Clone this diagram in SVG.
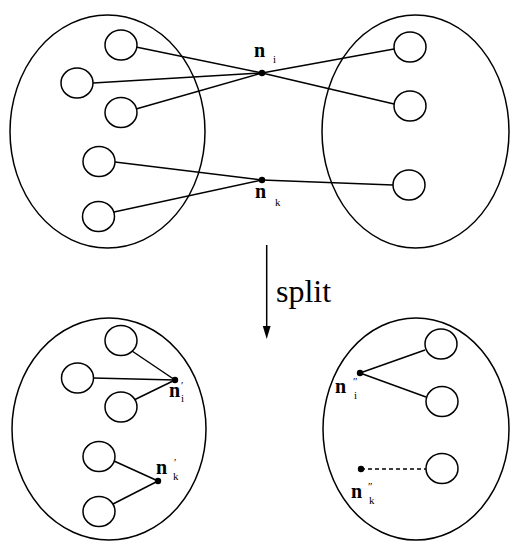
<svg xmlns="http://www.w3.org/2000/svg" width="510" height="541" viewBox="0 0 510 541">
<style>
.big{fill:none;stroke:#000;stroke-width:1.5}
.sm{fill:#fff;stroke:#000;stroke-width:1.5}
.ln{stroke:#000;stroke-width:1.5;fill:none}
.dash{stroke:#000;stroke-width:1.3;stroke-dasharray:4,3;fill:none}
.dot{fill:#000}
.n{font-family:"Liberation Serif",serif;font-size:20px;font-weight:bold;fill:#000}
.sub{font-family:"Liberation Serif",serif;font-size:11px;fill:#000}
.lbl{font-family:"Liberation Serif",serif;font-size:32px;fill:#000}
</style>
<rect width="510" height="541" fill="#fff"/>
<g id="connectors">
<line class="ln" x1="136" y1="47" x2="262" y2="73"/>
<line class="ln" x1="93" y1="83" x2="262" y2="73"/>
<line class="ln" x1="136" y1="109" x2="262" y2="73"/>
<line class="ln" x1="262" y1="73" x2="394" y2="49"/>
<line class="ln" x1="262" y1="73" x2="394" y2="104"/>
<line class="ln" x1="115" y1="162" x2="262" y2="180"/>
<line class="ln" x1="114" y1="212" x2="262" y2="180"/>
<line class="ln" x1="262" y1="180" x2="393" y2="185"/>
<line class="ln" x1="132" y1="351" x2="175" y2="380"/>
<line class="ln" x1="93" y1="378" x2="175" y2="380"/>
<line class="ln" x1="134" y1="400" x2="175" y2="380"/>
<line class="ln" x1="114" y1="461" x2="158" y2="481"/>
<line class="ln" x1="113" y1="504" x2="158" y2="481"/>
<line class="ln" x1="360" y1="373" x2="425" y2="350"/>
<line class="ln" x1="360" y1="373" x2="426" y2="397"/>
<line class="dash" x1="361" y1="469" x2="426" y2="469"/>
<line class="ln" x1="266.7" y1="245" x2="266.7" y2="328"/>
<polygon points="262.8,326 270.6,326 266.7,339" fill="#000"/>
</g>
<g id="cluster-top-left">
<ellipse class="big" cx="107.5" cy="131.5" rx="97.5" ry="116.5"/>
<ellipse class="sm" cx="121" cy="45" rx="16" ry="15"/>
<ellipse class="sm" cx="77" cy="83" rx="16" ry="15"/>
<ellipse class="sm" cx="121" cy="112.5" rx="16" ry="15"/>
<ellipse class="sm" cx="99" cy="161.5" rx="16" ry="15"/>
<ellipse class="sm" cx="98.5" cy="216.5" rx="16" ry="15"/>
</g>
<g id="cluster-top-right">
<ellipse class="big" cx="415.5" cy="131.5" rx="93.5" ry="116.5"/>
<ellipse class="sm" cx="410" cy="47" rx="16" ry="15"/>
<ellipse class="sm" cx="410" cy="106" rx="16" ry="15"/>
<ellipse class="sm" cx="409" cy="185" rx="16" ry="15"/>
</g>
<g id="cluster-bottom-left">
<ellipse class="big" cx="109" cy="429" rx="97" ry="111"/>
<ellipse class="sm" cx="121" cy="340.5" rx="16" ry="15"/>
<ellipse class="sm" cx="77.5" cy="378" rx="16" ry="15"/>
<ellipse class="sm" cx="121" cy="407" rx="16" ry="15"/>
<ellipse class="sm" cx="99" cy="456.5" rx="16" ry="15"/>
<ellipse class="sm" cx="99" cy="511.5" rx="16" ry="15"/>
</g>
<g id="cluster-bottom-right">
<ellipse class="big" cx="416" cy="429" rx="93" ry="111"/>
<ellipse class="sm" cx="441" cy="344" rx="16" ry="15"/>
<ellipse class="sm" cx="442" cy="401.5" rx="16" ry="15"/>
<ellipse class="sm" cx="442" cy="468.5" rx="16" ry="15"/>
</g>
<g id="node-ni">
<circle class="dot" cx="262" cy="73" r="3.2"/>
<text class="n" x="254" y="57">n</text><text class="sub" x="273" y="63">i</text>
</g>
<g id="node-nk">
<circle class="dot" cx="262" cy="180" r="3.2"/>
<text class="n" x="255" y="198">n</text><text class="sub" x="275" y="206">k</text>
</g>
<g id="node-ni1">
<circle class="dot" cx="175" cy="380" r="3.2"/>
<text class="n" x="169" y="397">n</text><text class="sub" x="181" y="389">′</text><text class="sub" x="181" y="402">i</text>
</g>
<g id="node-nk1">
<circle class="dot" cx="158" cy="481" r="3.2"/>
<text class="n" x="156" y="474">n</text><text class="sub" x="174" y="466">′</text><text class="sub" x="173" y="480">k</text>
</g>
<g id="node-ni2">
<circle class="dot" cx="360" cy="373" r="3.2"/>
<text class="n" x="335" y="393">n</text><text class="sub" x="353" y="385">″</text><text class="sub" x="354" y="399">i</text>
</g>
<g id="node-nk2">
<circle class="dot" cx="361" cy="469" r="3.2"/>
<text class="n" x="351" y="498">n</text><text class="sub" x="368" y="490">″</text><text class="sub" x="369" y="504">k</text>
</g>
<text class="lbl" x="276" y="302">split</text>
</svg>
